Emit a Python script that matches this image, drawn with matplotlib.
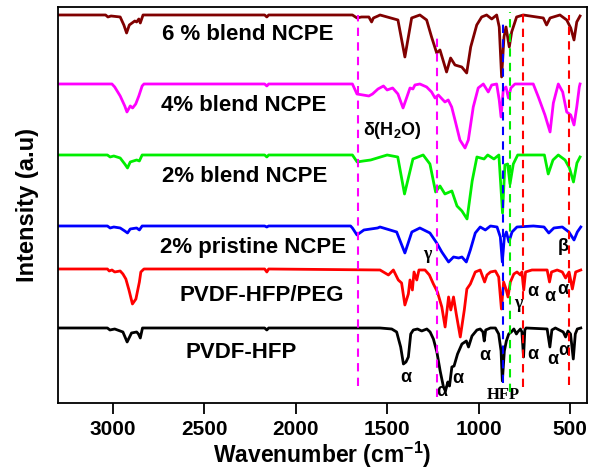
import numpy as np
import matplotlib.pyplot as plt

plt.rcParams['font.family'] = ['Liberation Sans', 'DejaVu Sans']
plt.rcParams['mathtext.fontset'] = 'custom'
plt.rcParams['mathtext.rm'] = 'Liberation Sans'
plt.rcParams['mathtext.bf'] = 'Liberation Sans:bold'

# spectra: wavenumber (cm-1) and band depth below each baseline (a.u.)
wn_6 = [3300, 3040, 3027, 3010, 2960, 2940, 2925, 2910, 2880, 2870, 2858, 2850, 2835, 2170, 2158, 2148,
        1690, 1665, 1640, 1600, 1585, 1575, 1550, 1539, 1441, 1403, 1366, 1321, 1284, 1257, 1229, 1211,
        1175, 1153, 1129, 1092, 1065, 1043, 1010, 983, 956, 928, 901, 887, 874, 861, 850, 832, 819, 792,
        756, 646, 628, 609, 555, 518, 496, 478, 463, 445]
d_6 = [0, 0, 2, 1, 2, 10, 18, 10, 6, 7, 4, 8, 0, 0, 2, 0,
       0, 3, 2, 2, 7, 3, 1, 0, 5, 42, 3, 0, 5, 22, 38, 35,
       57, 43, 50, 52, 58, 32, 10, 2, 0, 4, 0, 12, 62, 22, 12, 32, 17, 2,
       0, 3, 10, 3, 0, 5, 13, 25, 7, 1]

wn_4 = [3300, 3005, 2990, 2960, 2935, 2923, 2905, 2892, 2875, 2858, 2840, 2830, 2170, 2158, 2148,
        1690, 1665, 1600, 1580, 1550, 1520, 1500, 1470, 1441, 1413, 1392, 1375, 1359, 1348, 1321,
        1284, 1257, 1238, 1220, 1184, 1166, 1147, 1129, 1102, 1074, 1056, 1029, 1002, 974, 947, 928,
        901, 887, 877, 865, 850, 837, 823, 801, 701, 673, 637, 609, 591, 564, 540, 518, 496, 478,
        463, 449, 445]
d_4 = [0, 0, 3, 12, 22, 28, 22, 24, 20, 12, 2, 0, 0, 2, 0,
       0, 10, 12, 10, 5, 2, 6, 4, 10, 24, 13, 4, 5, 1, 0,
       3, 8, 14, 11, 18, 16, 23, 36, 56, 64, 56, 23, 4, 0, 8, 1,
       0, 16, 33, 6, 3, 14, 4, 0, 0, 13, 31, 48, 19, 0, 8, 28, 31, 41,
       23, 3, 0]

wn_2b = [3300, 3030, 3015, 2995, 2960, 2935, 2920, 2905, 2870, 2855, 2840, 2170, 2158, 2148,
         1690, 1664, 1630, 1590, 1500, 1442, 1405, 1359, 1303, 1266, 1235, 1211, 1184, 1146, 1118,
         1091, 1063, 1035, 1009, 970, 950, 916, 889, 869, 856, 841, 828, 810, 786, 640, 619, 593,
         564, 527, 503, 481, 462, 445]
d_2b = [0, 0, 2, 1, 3, 9, 13, 7, 5, 6, 0, 0, 2, 0,
        0, 7, 6, 5, 0, 2, 39, 4, 0, 9, 37, 31, 39, 36, 51,
        56, 64, 26, 2, 4, 0, 4, 0, 58, 10, 9, 29, 9, 0, 0, 19, 5,
        0, 5, 13, 27, 8, 2]

wn_2p = [3300, 3030, 3015, 2995, 2960, 2935, 2920, 2905, 2870, 2855, 2840, 2170, 2158, 2148,
         1700, 1690, 1665, 1627, 1552, 1539, 1448, 1403, 1365, 1321, 1266, 1229, 1201, 1164, 1137,
         1109, 1091, 1067, 1045, 1018, 991, 963, 935, 899, 881, 870, 859, 848, 834, 817, 790, 700,
         642, 616, 588, 542, 506, 478, 460, 441]
d_2p = [0, 0, 2, 1, 2, 5, 7, 3, 2, 4, 0, 0, 1, 0,
        0, 2, 9, 4, 2, 1, 6, 27, 6, 2, 7, 17, 26, 36, 31,
        32, 31, 36, 24, 7, 1, 4, 0, 1, 11, 36, 11, 6, 16, 6, 1, 0,
        1, 7, 2, 1, 6, 14, 6, 1]

wn_peg = [3300, 3030, 3020, 3005, 2990, 2960, 2945, 2929, 2912, 2893, 2874, 2855, 2847, 2830,
          2170, 2158, 2148, 1539, 1493, 1466, 1439, 1421, 1403, 1384, 1375, 1362, 1353, 1338, 1326,
          1293, 1269, 1247, 1225, 1201, 1183, 1164, 1152, 1137, 1122, 1100, 1078, 1064, 1045, 1018,
          991, 967, 954, 935, 908, 890, 875, 863, 850, 839, 826, 807, 790, 771, 763, 753, 743, 708,
          625, 612, 601, 570, 542, 524, 505, 487, 469, 441]
d_peg = [0, 0, 2, 1, 3, 2, 5, 10, 21, 35, 30, 13, 3, 0,
         0, 3, 0, 1, 6, 1, 11, 14, 36, 25, 11, 21, 3, 11, 1,
         1, 6, 15, 23, 38, 58, 28, 41, 28, 45, 68, 41, 20, 15, 3,
         1, 13, 6, 3, 2, 8, 40, 13, 20, 28, 13, 5, 3, 6, 3, 21, 3, 1,
         1, 13, 3, 1, 3, 9, 3, 20, 3, 1]

wn_hfp = [3300, 3030, 3016, 2990, 2960, 2945, 2922, 2898, 2870, 2860, 2850, 2838, 2170, 2158, 2148,
          1539, 1475, 1448, 1426, 1411, 1397, 1384, 1371, 1357, 1334, 1311, 1283, 1265, 1247, 1228,
          1210, 1192, 1181, 1168, 1159, 1146, 1134, 1115, 1091, 1067, 1055, 1036, 1009, 991, 976, 969,
          961, 935, 908, 890, 877, 870, 859, 848, 835, 821, 807, 793, 786, 771, 763, 754, 747, 740,
          625, 610, 599, 580, 537, 524, 511, 497, 482, 471, 460, 441]
d_hfp = [0, 0, 2, 1, 3, 4, 14, 5, 4, 6, 10, 0, 0, 2, 0,
         0, 1, 4, 19, 36, 34, 29, 6, 2, 1, 3, 1, 4, 11, 24,
         43, 59, 63, 54, 58, 39, 38, 26, 16, 13, 19, 8, 2, 1, 4, 13,
         2, 0, 0, 6, 23, 53, 23, 13, 6, 4, 1, 6, 4, 1, 4, 29, 2, 0,
         1, 19, 2, 0, 4, 9, 3, 6, 31, 6, 1, 0]

spectra = [
    (wn_6, d_6, 388, '#800000'),
    (wn_4, d_4, 319, '#ff00ff'),
    (wn_2b, d_2b, 248, '#00ee00'),
    (wn_2p, d_2p, 177, '#0000ff'),
    (wn_peg, d_peg, 134, '#ff0000'),
    (wn_hfp, d_hfp, 75, '#000000'),
]

names = ["6 % blend NCPE", "4% blend NCPE", "2% blend NCPE",
         "2% pristine NCPE", "PVDF-HFP/PEG", "PVDF-HFP"]
name_x = [2261, 2283, 2278, 2236, 2185, 2297]
name_y = [368, 297, 226, 155, 107, 50]

# dashed guide lines: position, colour, y-range
guide_wn = [1660, 1230, 868, 830, 757, 505]
guide_col = ['#ff00ff', '#ff00ff', '#0000ff', '#00ee00', '#ff0000', '#ff0000']
guide_lo = [17, 6, 20, 11, 16, 18]
guide_hi = [388, 369, 379, 391, 390, 388]

fig = plt.figure(figsize=(5.89, 4.75), dpi=100)
ax = fig.add_axes([0.0985, 0.1516, 0.8981, 0.8337])

for wn, d, base, col in spectra:
    ax.plot(wn, base - np.array(d), color=col, lw=2.0, solid_joinstyle='round')

for w, c, lo, hi in zip(guide_wn, guide_col, guide_lo, guide_hi):
    ax.vlines(w, lo, hi, colors=c, linestyles=(0, (4, 3)), lw=1.5, zorder=5)

for s, x, y in zip(names, name_x, name_y):
    ax.text(x, y, s, ha='center', va='center', fontsize=16, fontweight='bold')

ax.text(1630, 272, r"δ(H$_\mathbf{2}$O)", ha='left', va='center', fontsize=13, fontweight='bold')
ax.text(1282, 148, "γ", ha='center', va='center', fontsize=13, fontweight='bold', family='Liberation Serif')
ax.text(784, 99, "γ", ha='center', va='center', fontsize=13, fontweight='bold', family='Liberation Serif')
ax.text(538, 156, "β", ha='center', va='center', fontsize=13, fontweight='bold')
ax.text(866, 8, "HFP", ha='center', va='center', fontsize=12, fontweight='bold', family='Liberation Serif')

alpha_x = [703, 610, 538, 1397, 1200, 1113, 965, 703, 594, 533]
alpha_y = [111, 106, 113, 25, 11, 24, 47, 48, 43, 52]
for x, y in zip(alpha_x, alpha_y):
    ax.text(x, y, "α", ha='center', va='center', fontsize=13, fontweight='bold')

ax.set_xlim(3300, 407)
ax.set_ylim(0, 396)
ax.set_xticks([3000, 2500, 2000, 1500, 1000, 500])
ax.set_yticks([])
ax.tick_params(axis='x', direction='out', length=8, width=1.3, labelsize=15, pad=4)
for lbl in ax.get_xticklabels():
    lbl.set_fontweight('bold')
for sp in ax.spines.values():
    sp.set_linewidth(1.3)

ax.set_xlabel(r"Wavenumber (cm$^{\mathbf{-1}}$)", fontsize=16.5, fontweight='bold', labelpad=1)
ax.set_ylabel("Intensity (a.u)", fontsize=17, fontweight='bold', labelpad=14)

plt.savefig("out.png", dpi=100)
